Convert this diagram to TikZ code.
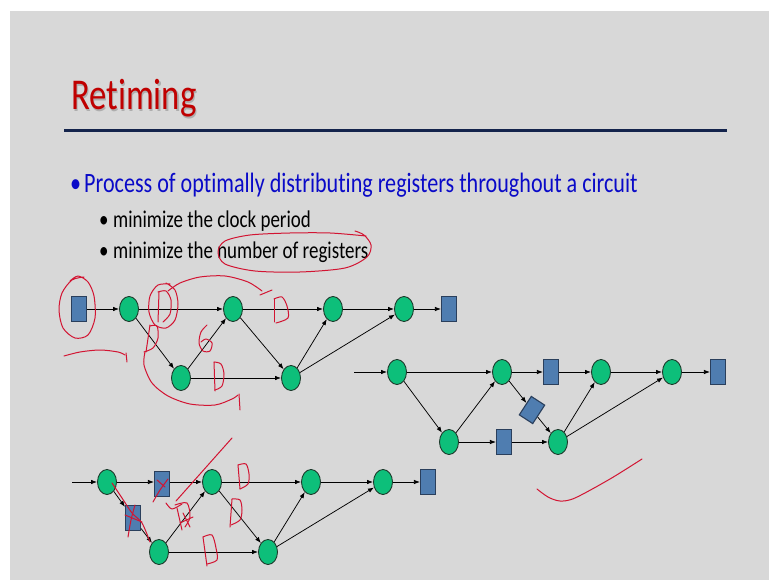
\documentclass[tikz,border=0pt]{standalone}
\usepackage{fontspec}
\setmainfont{Carlito}[FakeStretch=0.79,Ligatures=NoCommon]
\usetikzlibrary{arrows.meta,shapes.geometric}

\definecolor{slidegrey}{HTML}{D8D8D8}
\definecolor{titlered}{HTML}{C00000}
\definecolor{bulletblue}{HTML}{0A0AC8}
\definecolor{rulenavy}{HTML}{14244C}
\definecolor{opgreen}{HTML}{0DBF7A}
\definecolor{opedge}{HTML}{1E3A2C}
\definecolor{regblue}{HTML}{4F7DB0}
\definecolor{regedge}{HTML}{2A3F5C}
\definecolor{inkred}{HTML}{D21432}

\begin{document}
\begin{tikzpicture}[x=1pt,y=-1pt,
  op/.style={ellipse,minimum width=19pt,minimum height=25pt,inner sep=0pt,
             fill=opgreen,draw=opedge,line width=0.9pt},
  reg/.style={rectangle,minimum width=15pt,minimum height=25pt,inner sep=0pt,
              fill=regblue,draw=regedge,line width=1.1pt},
  wire/.style={draw=black,line width=0.75pt,-{Latex[length=6pt,width=4.5pt]}},
  ink/.style={draw=inkred,line width=1pt,line cap=round,line join=round},
  txt/.style={anchor=base west,inner sep=0pt}]

\useasboundingbox (0,0) rectangle (769,580);
\fill[white] (0,0) rectangle (769,580);
\fill[slidegrey] (10,11) rectangle (769,580);

% ---- title and text ----
\node[txt,text=black!45,opacity=.55] (titleshadow) at (72.2,111.4) {\fontsize{44}{50}\selectfont Retiming};
\node[txt,text=titlered] (title) at (71,110) {\fontsize{44}{50}\selectfont Retiming};
\draw[rulenavy,line width=3pt] (64,131) -- (727,131);

\node[txt,text=bulletblue] (dot1) at (70,193) {\fontsize{28}{32}\selectfont •};
\node[txt,text=bulletblue] (line1) at (84,193)
  {\fontsize{28}{32}\selectfont Process of optimally distributing registers throughout a circuit};
\node[txt] (dot2) at (99,228) {\fontsize{24}{28}\selectfont •};
\node[txt] (line2) at (113,228) {\fontsize{24}{28}\selectfont minimize the clock period};
\node[txt] (dot3) at (99,259) {\fontsize{24}{28}\selectfont •};
\node[txt] (line3) at (113,259) {\fontsize{24}{28}\selectfont minimize the number of registers};

% ---- circuit 1 ----
\node[reg] (r1in)  at (79,309) {};
\node[op]  (n1a)   at (129,309) {};
\node[op]  (n1b)   at (233,309) {};
\node[op]  (n1c)   at (333,309) {};
\node[op]  (n1d)   at (404,309) {};
\node[reg] (r1out) at (449,309) {};
\node[op]  (n1e)   at (181,378) {};
\node[op]  (n1f)   at (291,378) {};

\draw[wire] (r1in) -- (n1a);
\draw[wire] (n1a) -- (n1b);
\draw[wire] (n1b) -- (n1c);
\draw[wire] (n1c) -- (n1d);
\draw[wire] (n1d) -- (r1out);
\draw[wire] (n1a) -- (n1e);
\draw[wire] (n1e) -- (n1b);
\draw[wire] (n1e) -- (n1f);
\draw[wire] (n1b) -- (n1f);
\draw[wire] (n1f) -- (n1c);
\draw[wire] (n1f) -- (n1d);

% ---- circuit 2 ----
\coordinate (c2in) at (354,372);
\node[op]  (n2a)   at (397,372) {};
\node[op]  (n2b)   at (502,372) {};
\node[reg] (r2a)   at (551,372) {};
\node[op]  (n2c)   at (601,372) {};
\node[op]  (n2d)   at (672,372) {};
\node[reg] (r2out) at (718,372) {};
\node[op]  (n2e)   at (449,442) {};
\node[reg] (r2b)   at (504,442) {};
\node[op]  (n2f)   at (558,442) {};
\node[reg,rotate=-33,minimum width=16pt,minimum height=22pt] (r2d) at (532,410) {};

\draw[wire] (c2in) -- (n2a);
\draw[wire] (n2a) -- (n2b);
\draw[wire] (n2b) -- (r2a);
\draw[wire] (r2a) -- (n2c);
\draw[wire] (n2c) -- (n2d);
\draw[wire] (n2d) -- (r2out);
\draw[wire] (n2a) -- (n2e);
\draw[wire] (n2e) -- (n2b);
\draw[wire] (n2e) -- (r2b);
\draw[wire] (r2b) -- (n2f);
\draw[wire] (n2b) -- (r2d);
\draw[wire] (r2d) -- (n2f);
\draw[wire] (n2f) -- (n2c);
\draw[wire] (n2f) -- (n2d);

% ---- circuit 3 ----
\coordinate (c3in) at (72,482);
\node[op]  (n3a)   at (107,482) {};
\node[reg] (r3a)   at (162,484) {};
\node[op]  (n3b)   at (212,482) {};
\node[op]  (n3c)   at (311,482) {};
\node[op]  (n3d)   at (383,482) {};
\node[reg] (r3out) at (428,482) {};
\node[reg] (r3b)   at (133,518) {};
\node[op]  (n3e)   at (159,552) {};
\node[op]  (n3f)   at (268,552) {};

\draw[wire] (c3in) -- (n3a);
\draw[wire] (n3a) -- (n3a -| r3a.west);
\draw[wire] (n3a -| r3a.east) -- (n3b);
\draw[wire] (n3b) -- (n3c);
\draw[wire] (n3c) -- (n3d);
\draw[wire] (n3d) -- (r3out);
\draw[wire] (n3a) -- (r3b);
\draw[wire] (r3b) -- (n3e);
\draw[wire] (n3e) -- (n3b);
\draw[wire] (n3e) -- (n3f);
\draw[wire] (n3b) -- (n3f);
\draw[wire] (n3f) -- (n3c);
\draw[wire] (n3f) -- (n3d);

% ---- pen marks ----
% loop round "number of registers"
\draw[ink] plot[smooth] coordinates {(366,236) (330,233) (290,233) (250,235) (225,241) (218,252)
  (225,264) (255,271) (300,272) (345,268) (367,257) (371,245) (364,235) (355,231)};
% loop round the input register and stroke under it
\draw[ink] plot[smooth] coordinates {(84,277) (72,280) (62,293) (59,310) (63,328) (75,338)
  (88,335) (95,318) (94,296) (88,282) (78,276) (70,281)};
\draw[ink] plot[smooth] coordinates {(64,356) (80,352) (100,350) (118,352) (125,355)};
\draw[ink] (126,353) -- (127,362);
% circled D on the first edge, arc over to the next D
\draw[ink] plot[smooth] coordinates {(170,284) (158,285) (150,296) (149,312) (155,325) (166,328)
  (175,320) (178,304) (175,290) (166,283)};
\draw[ink] (159,292) -- (158,322);
\draw[ink] plot[smooth] coordinates {(158,292) (166,291) (171,300) (170,314) (163,322)};
\draw[ink] plot[smooth] coordinates {(168,291) (180,283) (200,277) (225,276) (248,282) (262,291)};
\draw[ink] (260,295) -- (272,290);
\draw[ink] (274,322) -- (274,299);
\draw[ink] plot[smooth] coordinates {(274,299) (282,297) (287,306) (288,318) (276,323)};
% D marks below, bracket
\draw[ink] (150,325) -- (146,352);
\draw[ink] plot[smooth] coordinates {(150,326) (157,326) (158,338) (153,348) (144,352)};
\draw[ink] plot[smooth] coordinates {(145,352) (144,365) (152,383) (168,396) (190,404)
  (215,405) (232,399) (238,395)};
\draw[ink] (239,394) -- (240,410);
\draw[ink] plot[smooth] coordinates {(207,325) (201,332) (199,343) (203,351) (210,351)
  (212,343) (206,339) (201,342)};
\draw[ink] (214,362) -- (215,391);
\draw[ink] plot[smooth] coordinates {(214,362) (221,364) (224,374) (222,386) (215,390)};
% tick on the right
\draw[ink] plot[smooth] coordinates {(537,489) (548,497) (560,501) (575,498) (610,479) (642,459)};
% marks on the third circuit
\draw[ink] (232,438) -- (176,501);
\draw[ink] plot[smooth] coordinates {(166,503) (172,509) (182,504)};
\draw[ink] (177,508) -- (182,530);
\draw[ink] plot[smooth] coordinates {(175,505) (187,503) (190,517) (185,527)};
\draw[ink] (180,523) -- (193,517);
\draw[ink] (183,513) -- (190,527);
\draw[ink] plot[smooth] coordinates {(168,479) (160,490) (153,502)};
\draw[ink] (157,480) -- (165,487);
\draw[ink] plot[smooth] coordinates {(112,483) (122,498) (132,513) (142,523) (150,542)};
\draw[ink] plot[smooth] coordinates {(135,505) (131,520) (128,537)};
\draw[ink] (125,515) -- (142,522);
\draw[ink] (238,465) -- (240,489);
\draw[ink] plot[smooth] coordinates {(238,465) (246,464) (249,474) (248,484) (240,489)};
\draw[ink] (232,499) -- (230,527);
\draw[ink] plot[smooth] coordinates {(232,499) (240,500) (242,510) (240,520) (231,525)};
\draw[ink] (203,537) -- (207,566);
\draw[ink] plot[smooth] coordinates {(203,537) (212,535) (216,548) (217,560) (207,564)};
\end{tikzpicture}
\end{document}
